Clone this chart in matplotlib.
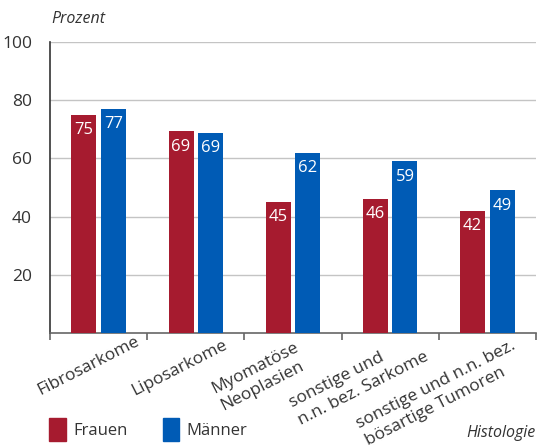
import numpy as np
import matplotlib.pyplot as plt
from matplotlib.patches import Patch

plt.rcParams['font.family'] = ['Open Sans', 'DejaVu Sans']

categories = ['Fibrosarkome', 'Liposarkome', 'Myomatöse\nNeoplasien',
              'sonstige und\nn.n. bez. Sarkome', 'sonstige und n.n. bez.\nbösartige Tumoren']
frauen = [75, 69.3, 45, 46, 42]
maenner = [77, 68.7, 62, 59, 49]
y_ticks = [20, 40, 60, 80, 100]

# start of the last line of each category label: (shift in category units, axes y)
label_pos = [(-0.60, -0.213), (-0.63, -0.213), (-0.73, -0.258),
             (-0.93, -0.306), (-1.24, -0.378)]

red = '#a61b2f'
blue = '#005bb5'
txt = '#333333'

fig = plt.figure(figsize=(5.37, 4.46), dpi=100)
ax = fig.add_axes([50/537, 1 - 333/446, 486/537, 291/446])

x = np.arange(len(categories))
w = 0.257
b1 = ax.bar(x - 0.152, frauen, w, color=red, zorder=3)
b2 = ax.bar(x + 0.152, maenner, w, color=blue, zorder=3)

for bars, vals in [(b1, frauen), (b2, maenner)]:
    for rect, v in zip(bars, vals):
        ax.annotate(f'{v:.0f}', (rect.get_x() + rect.get_width() / 2, v),
                    xytext=(0, -11), textcoords='offset points',
                    ha='center', va='center', color='white', fontsize=12, zorder=4)

ax.set_xlim(-0.5, len(categories) - 0.5)
ax.set_ylim(0, 100)
ax.set_yticks(y_ticks)
ax.set_yticklabels([str(t) for t in y_ticks], fontsize=12.5, color=txt)
ax.tick_params(axis='y', length=0, pad=13)
ax.set_xticks(np.arange(len(categories) + 1) - 0.5)
ax.set_xticklabels([])
ax.tick_params(axis='x', direction='out', length=5, width=1.2, color='#666666')
ax.grid(axis='y', color='#c4c4c4', lw=1, zorder=0)

for s in ['top', 'right']:
    ax.spines[s].set_visible(False)
ax.spines['left'].set_color('#333333')
ax.spines['left'].set_linewidth(1.2)
ax.spines['bottom'].set_color('#666666')
ax.spines['bottom'].set_linewidth(1.2)

for i, (lab, (dx, ly)) in enumerate(zip(categories, label_pos)):
    ax.text(i + dx, ly, lab, transform=ax.get_xaxis_transform(),
            rotation=27, rotation_mode='anchor', ha='left', va='baseline',
            multialignment='left', linespacing=1.25, fontsize=12.5, color=txt)

fig.text(51/537, 1 - 19/446, 'Prozent', style='italic', fontsize=11.5, color=txt,
         ha='left', va='center')
fig.text(536/537, 1 - 433/446, 'Histologie', style='italic', fontsize=11.5, color=txt,
         ha='right', va='center')

handles = [Patch(color=red, label='Frauen'), Patch(color=blue, label='Männer')]
fig.legend(handles=handles, loc='lower left', bbox_to_anchor=(49/537, 1 - 441/446),
           ncol=2, frameon=False, fontsize=12, handlelength=1.0, handleheight=1.75,
           handletextpad=0.45, columnspacing=2.1, borderpad=0, borderaxespad=0,
           labelcolor=txt)

plt.savefig('out.png', dpi=100)
